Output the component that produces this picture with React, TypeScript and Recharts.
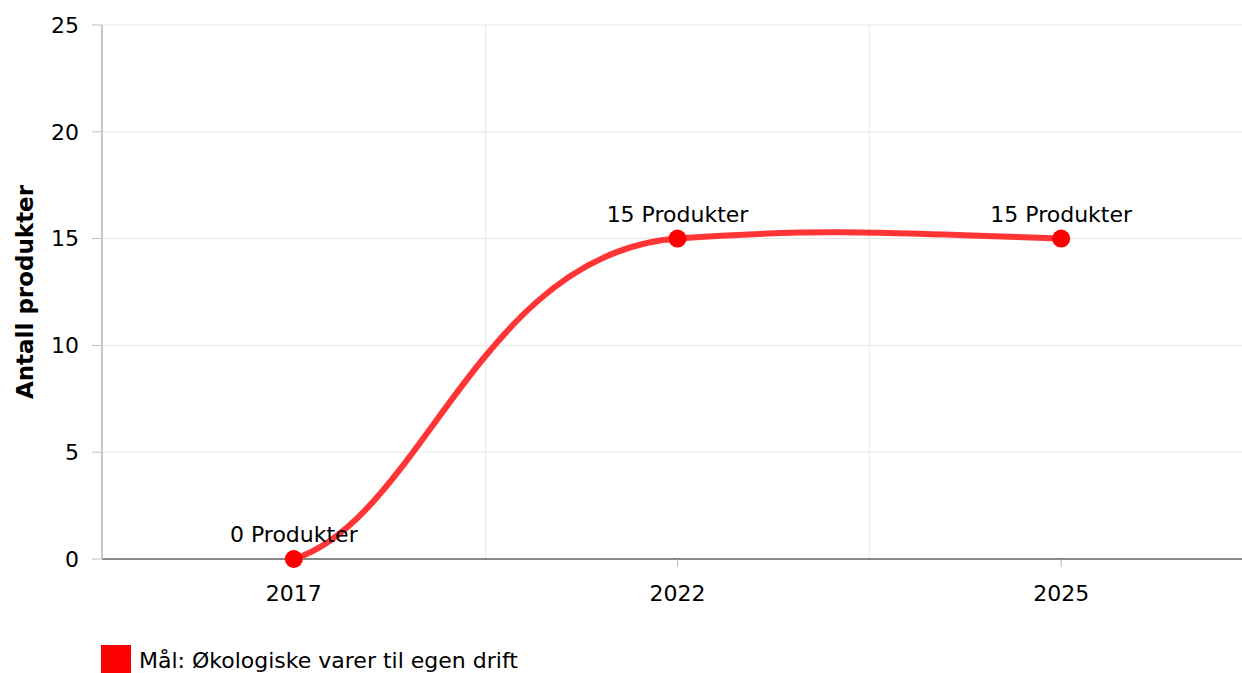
import {
  LineChart,
  Line,
  XAxis,
  YAxis,
  CartesianGrid,
  Legend,
  LabelList,
} from "recharts";

// ── Data ─────────────────────────────────────────────────────────────

const years = ["2017", "2022", "2025"];
const produkter = [0, 15, 15];
const yTicks = [0, 5, 10, 15, 20, 25];
const seriesName = "Mål: Økologiske varer til egen drift";
const axisTitle = "Antall produkter";
const unit = "Produkter";

const data = years.map((year, i) => ({ year, value: produkter[i] }));

// ── Style ────────────────────────────────────────────────────────────

const FONT = "'DejaVu Sans', Verdana, sans-serif";
const RED = "#ff0000";
const LINE_RED = "#ff3535";
const PLOT_W = 1151;
const HALF_BAND = PLOT_W / years.length / 2;

// Smooth curve: damped tangents at inner points, incoming handles stretched
// when the tangent leaves the chord direction (gives the soft S + slight bump).
function smoothCurve(context: any) {
  let xs: number[] = [];
  let ys: number[] = [];
  return {
    areaStart() {},
    areaEnd() {},
    lineStart() {
      xs = [];
      ys = [];
    },
    point(x: number, y: number) {
      xs.push(+x);
      ys.push(+y);
    },
    lineEnd() {
      const n = xs.length;
      if (!n) return;
      context.moveTo(xs[0], ys[0]);
      if (n === 1) return;
      const s: number[] = [];
      for (let i = 0; i < n - 1; i++) s.push((ys[i + 1] - ys[i]) / (xs[i + 1] - xs[i]));
      const m: number[] = new Array(n).fill(0);
      for (let i = 1; i < n - 1; i++) {
        m[i] = 0.175 * ((ys[i + 1] - ys[i - 1]) / (xs[i + 1] - xs[i - 1]));
      }
      m[0] = n > 2 ? 0.42 * s[0] - 0.5 * m[1] : s[0];
      m[n - 1] = n > 2 ? 0.42 * s[n - 2] - 0.5 * m[n - 2] : s[n - 2];
      for (let i = 0; i < n - 1; i++) {
        const dx = xs[i + 1] - xs[i];
        const a = dx / 3;
        const dev = Math.min(
          1,
          Math.abs(s[i] - m[i + 1]) / Math.max(Math.abs(s[i]), Math.abs(m[i + 1]), 1e-6)
        );
        const b = (dx / 3) * (1 + 0.6 * dev);
        context.bezierCurveTo(
          xs[i] + a,
          ys[i] + a * m[i],
          xs[i + 1] - b,
          ys[i + 1] - b * m[i + 1],
          xs[i + 1],
          ys[i + 1]
        );
      }
    },
  };
}

function YTitle(props: any) {
  const { viewBox } = props;
  const cx = 25;
  const cy = viewBox.y + viewBox.height / 2;
  return (
    <text
      x={cx}
      y={cy}
      transform={`rotate(-90 ${cx} ${cy})`}
      textAnchor="middle"
      dominantBaseline="central"
      fontFamily={FONT}
      fontSize={23}
      fontWeight="bold"
      fill="#000"
    >
      {axisTitle}
    </text>
  );
}

function LegendContent() {
  return (
    <div style={{ display: "flex", alignItems: "center", fontFamily: FONT }}>
      <span
        style={{ display: "inline-block", width: 30, height: 30, background: RED }}
      />
      <span style={{ marginLeft: 8, fontSize: 22, color: "#000" }}>{seriesName}</span>
    </div>
  );
}

// ── Component ────────────────────────────────────────────────────────

export default function App() {
  return (
    <div
      style={{
        position: "absolute",
        left: 0,
        top: 0,
        width: 1242,
        height: 673,
        overflow: "hidden",
        background: "#fff",
      }}
    >
      <LineChart
        width={102 + PLOT_W}
        height={673}
        data={data}
        margin={{ top: 25, right: 0, bottom: 0, left: 0 }}
      >
        <CartesianGrid
          stroke="#e6e6e6"
          verticalCoordinatesGenerator={({ offset }: any) =>
            years
              .map((_, i) => offset.left + (i * offset.width) / years.length)
              .concat(offset.left + offset.width)
          }
        />
        <XAxis
          dataKey="year"
          height={114}
          padding={{ left: HALF_BAND, right: HALF_BAND }}
          tickSize={8}
          tickMargin={18}
          axisLine={{ stroke: "#888", strokeWidth: 2 }}
          tickLine={{ stroke: "#bbb" }}
          tick={{ fill: "#000", fontSize: 22, fontFamily: FONT }}
        />
        <YAxis
          width={102}
          domain={[0, 25]}
          ticks={yTicks}
          tickSize={10}
          tickMargin={13}
          axisLine={{ stroke: "#c8c8c8", strokeWidth: 2 }}
          tickLine={{ stroke: "#c0c0c0" }}
          tick={{ fill: "#000", fontSize: 22, fontFamily: FONT }}
          label={<YTitle />}
        />
        <Legend
          layout="horizontal"
          align="center"
          verticalAlign="middle"
          wrapperStyle={{ left: 101, top: 645, width: 700 }}
          content={<LegendContent />}
        />
        <Line
          type={smoothCurve as any}
          dataKey="value"
          name={seriesName}
          stroke={LINE_RED}
          strokeWidth={6}
          dot={{ r: 9, fill: RED, stroke: "none", strokeWidth: 0 }}
          activeDot={false}
          isAnimationActive={false}
        >
          <LabelList
            dataKey="value"
            position="top"
            offset={17}
            formatter={(v: any) => `${v} ${unit}`}
            fill="#000"
            fontSize={22}
            fontFamily={FONT}
          />
        </Line>
      </LineChart>
    </div>
  );
}
